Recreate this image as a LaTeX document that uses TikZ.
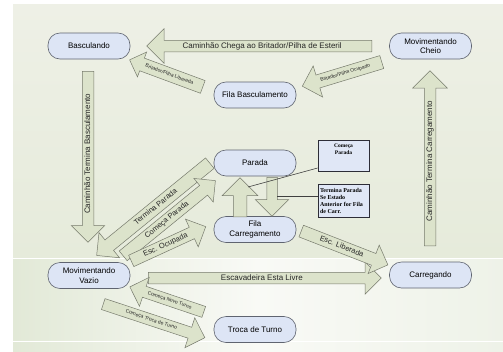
\documentclass[tikz,border=0pt]{standalone}
\usepackage{fontspec}
\setmainfont{Liberation Sans}
\newfontfamily\notefont{Liberation Serif}
\usetikzlibrary{shapes.arrows}

\definecolor{bgtopA}{RGB}{238,240,230}
\definecolor{bgtopB}{RGB}{230,235,219}
\definecolor{bglowL}{RGB}{226,233,215}
\definecolor{bglowM}{RGB}{249,250,246}
\definecolor{bglowR}{RGB}{238,242,232}
\definecolor{statefill}{RGB}{221,229,245}
\definecolor{stateline}{RGB}{95,100,112}
\definecolor{arrfill}{RGB}{220,227,203}
\definecolor{arrline}{RGB}{118,122,108}
\definecolor{notefill}{RGB}{224,231,246}
\definecolor{noteline}{RGB}{45,45,55}

\begin{document}
\begin{tikzpicture}[x=1pt,y=-1pt,
    state/.style={draw=stateline, fill=statefill, line width=0.6pt, rounded corners=12pt,
      minimum width=82pt, minimum height=26pt, align=center, font=\fontsize{8}{9.5}\selectfont},
    blockarr/.style={single arrow, draw=arrline, fill=arrfill, line width=0.5pt,
      minimum width=0pt, single arrow head extend=#1, inner xsep=1pt, anchor=tail, text=black!85},
    bigtxt/.style={font=\fontsize{8}{9}\selectfont, text height=5.5pt, text depth=1.5pt},
    midtxt/.style={font=\fontsize{7.5}{9}\selectfont, text height=5.2pt, text depth=1.4pt},
    tinytxt/.style={font=\fontsize{5}{6}\selectfont, text height=3.4pt, text depth=0.8pt},
    notebox/.style={draw=noteline, fill=notefill, line width=0.7pt, inner sep=0pt,
      minimum width=51pt, font=\notefont\bfseries},
    callout/.style={draw=black!75, line width=0.6pt}]

\useasboundingbox (0,0) rectangle (503,351);
% background
\shade[top color=bgtopA, bottom color=bgtopB] (13,4) rectangle (503,258);
\shade[left color=bglowL, right color=bglowR, middle color=bglowM] (13,258) rectangle (503,351);
\draw[white, line width=0.8pt] (13,258) -- (503,258);
\draw[white, line width=0.6pt] (13,341) -- (503,341);

% states
\node[state] (basc) at (89,46) {Basculando};
\node[state] (movcheio) at (430.5,46) {Movimentando\\Cheio};
\node[state] (filabasc) at (255,95) {Fila Basculamento};
\node[state] (parada) at (255,163) {Parada};
\node[state] (filacarr) at (255,229.5) {Fila\\Carregamento};
\node[state] (movvazio) at (89,275.5) {Movimentando\\Vazio};
\node[state] (carreg) at (430.5,275) {Carregando};
\node[state] (troca) at (255,329.5) {Troca de Turno};

% transitions
\node[blockarr=11.5pt, bigtxt, inner ysep=2pt, minimum height=225pt,
  shape border rotate=180] (chega) at (372,46) {Caminhão Chega ao Britador/Pilha de Esteril};
\node[blockarr=6.5pt, tinytxt, inner ysep=4.4pt, minimum height=78pt,
  shape border rotate=180, rotate=-20.3] (liberada) at (203,87) {Britador/Pilha Liberada};
\node[blockarr=9.5pt, tinytxt, inner ysep=4.4pt, minimum height=83pt,
  shape border rotate=180, rotate=16.9] (ocupado) at (382,62) {Britador/Pilha Ocupado};
\node[blockarr=11pt, bigtxt, inner ysep=2pt, minimum height=171pt,
  shape border rotate=180, rotate=90] (termbasc) at (88,71) {Caminhão Termina Basculamento};
\node[blockarr=11.5pt, bigtxt, inner ysep=2pt, minimum height=175pt,
  rotate=90] (termcarr) at (430,246) {Caminhão Termina Carregamento};
\node[blockarr=10.5pt, bigtxt, inner ysep=2pt, minimum height=233pt]
  (livre) at (148,278) {Escavadeira Esta Livre};
\node[blockarr=9pt, midtxt, inner ysep=2.7pt, minimum height=93pt,
  rotate=-21.3] (escliber) at (301,231) {Esc. Liberada};
\node[blockarr=9.5pt, midtxt, inner ysep=3.2pt, minimum height=146pt,
  shape border rotate=180, rotate=39.2] (termparada) at (210,163) {Termina Parada};
\node[blockarr=9pt, midtxt, inner ysep=2.7pt, minimum height=119pt,
  rotate=39.2] (comparada) at (123,256) {Começa Parada};
\node[blockarr=9pt, midtxt, inner ysep=2.7pt, minimum height=82pt,
  rotate=24.7] (escocup) at (131,261) {Esc. Ocupada};
\node[blockarr=11pt, inner ysep=6.5pt, minimum height=39pt,
  rotate=90] (filaparada) at (240,217) {};
\node[blockarr=11.5pt, inner ysep=5pt, minimum height=39pt,
  rotate=-90] (paradafila) at (272,177) {};
\node[blockarr=9.5pt, tinytxt, inner ysep=3.4pt, minimum height=78pt,
  shape border rotate=180, rotate=-18.7] (novoturno) at (204,312) {Começa Novo Turno};
\node[blockarr=10pt, tinytxt, inner ysep=3.4pt, minimum height=107pt,
  rotate=-18.3] (trocaturno) at (103,304) {Começa Troca de Turno};

% notes
\node[notebox, minimum height=31pt] (notecomeca) at (343.5,155.5)
  {\parbox[c][29pt][t]{49pt}{\centering\fontsize{5.5}{7}\selectfont\vspace{3pt}Começa\\Parada}};
\node[notebox, minimum height=33pt] (notetermina) at (343.5,200.5)
  {\parbox{47pt}{\raggedright\fontsize{6}{7}\selectfont Termina Parada\\Se Estado\\Anterior for Fila\\de Carr.}};
\coordinate (uphead) at (248,187);
\coordinate (downshaft) at (277,196);
\draw[callout] ([yshift=-12.5pt]notecomeca.west) -- (uphead);
\draw[callout] ([yshift=4.5pt]notetermina.west) -- (downshaft);
\end{tikzpicture}
\end{document}
